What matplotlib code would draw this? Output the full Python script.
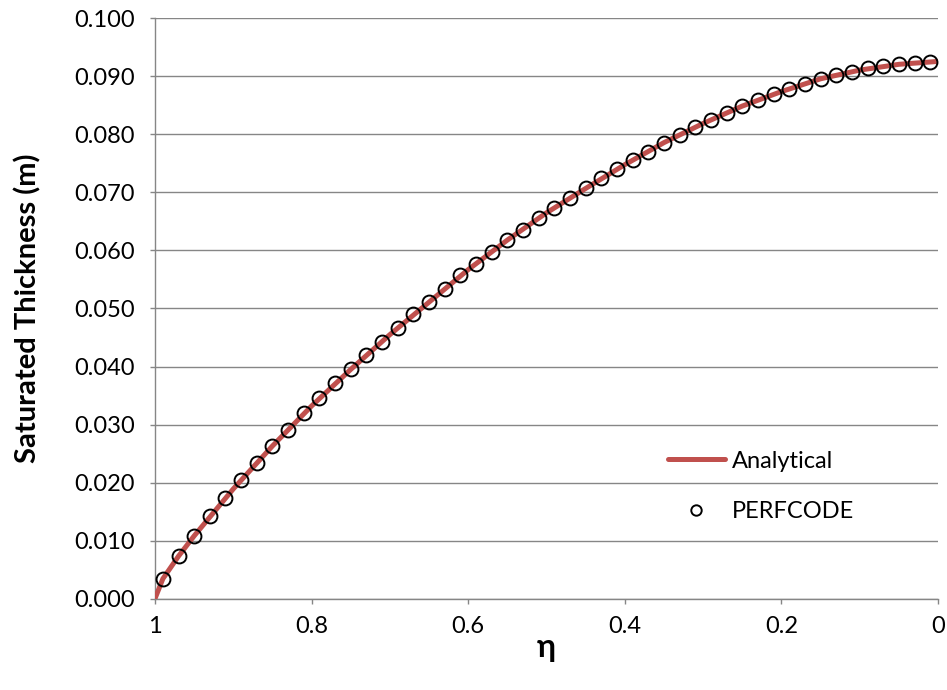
import matplotlib
matplotlib.use("Agg")
import matplotlib.pyplot as plt
from matplotlib.ticker import MultipleLocator, FormatStrFormatter, FuncFormatter

plt.rcParams['font.family'] = ['Lato', 'DejaVu Sans']

# Analytical curve
analytical_eta = [1.00, 0.99, 0.97, 0.95, 0.90, 0.85, 0.80, 0.75, 0.70, 0.65, 0.60,
                  0.55, 0.50, 0.45, 0.40, 0.35, 0.30, 0.25, 0.20, 0.15, 0.10, 0.05, 0.00]
analytical_thk = [0.0000, 0.0034, 0.0073, 0.0108, 0.0189, 0.0263, 0.0332, 0.0395, 0.0455,
                  0.0511, 0.0567, 0.0618, 0.0665, 0.0707, 0.0748, 0.0786, 0.0819, 0.0849,
                  0.0874, 0.0896, 0.0911, 0.0921, 0.0926]

# PERFCODE points
perf_eta = [0.99, 0.97, 0.95, 0.93, 0.91, 0.89, 0.87, 0.85, 0.83, 0.81,
            0.79, 0.77, 0.75, 0.73, 0.71, 0.69, 0.67, 0.65, 0.63, 0.61,
            0.59, 0.57, 0.55, 0.53, 0.51, 0.49, 0.47, 0.45, 0.43, 0.41,
            0.39, 0.37, 0.35, 0.33, 0.31, 0.29, 0.27, 0.25, 0.23, 0.21,
            0.19, 0.17, 0.15, 0.13, 0.11, 0.09, 0.07, 0.05, 0.03, 0.01]
perf_thk = [0.0034, 0.0073, 0.0108, 0.0142, 0.0173, 0.0204, 0.0234, 0.0263, 0.0290, 0.0319,
            0.0345, 0.0371, 0.0395, 0.0419, 0.0442, 0.0467, 0.0491, 0.0511, 0.0534, 0.0557,
            0.0577, 0.0597, 0.0618, 0.0635, 0.0656, 0.0674, 0.0691, 0.0707, 0.0725, 0.0741,
            0.0756, 0.0770, 0.0786, 0.0799, 0.0813, 0.0825, 0.0837, 0.0849, 0.0860, 0.0870,
            0.0878, 0.0887, 0.0896, 0.0903, 0.0907, 0.0915, 0.0918, 0.0921, 0.0923, 0.0925]

x_ticks = [1.0, 0.8, 0.6, 0.4, 0.2, 0.0]

grey = '#868686'
fig = plt.figure(figsize=(9.47, 6.90), dpi=100)
ax = fig.add_axes([0.1637, 0.1326, 0.8268, 0.8406])

ax.plot(analytical_eta, analytical_thk, color='#C0504D', lw=3.6, label='Analytical',
        solid_capstyle='round', zorder=3)
ax.plot(perf_eta, perf_thk, linestyle='none', marker='o', markersize=10,
        markerfacecolor='none', markeredgecolor='black', markeredgewidth=1.4,
        label='PERFCODE', zorder=4)

ax.set_xlim(1.0, 0.0)
ax.set_ylim(0.0, 0.100)
ax.set_xticks(x_ticks)
ax.xaxis.set_major_formatter(FuncFormatter(lambda v, p: '%g' % round(v, 1)))
ax.yaxis.set_major_locator(MultipleLocator(0.01))
ax.yaxis.set_major_formatter(FormatStrFormatter('%.3f'))

ax.grid(axis='y', color=grey, lw=1.0)
ax.set_axisbelow(True)
for s in ['top', 'right']:
    ax.spines[s].set_visible(False)
for s in ['left', 'bottom']:
    ax.spines[s].set_color(grey)
    ax.spines[s].set_linewidth(1.0)
ax.tick_params(axis='both', colors=grey, length=3.6, width=1.0, labelsize=17,
               labelcolor='black', direction='out')
ax.tick_params(axis='x', pad=9)
ax.tick_params(axis='y', pad=11)

ax.set_ylabel('Saturated Thickness (m)', fontsize=21, fontweight='bold')
ax.yaxis.set_label_coords(-0.163, 0.5)
ax.yaxis.label.set_va('center')
ax.set_xlabel('η', fontsize=23, fontweight='bold')
ax.xaxis.set_label_coords(0.5, -0.10)
ax.xaxis.label.set_va('baseline')

leg = ax.legend(loc='upper left', bbox_to_anchor=(0.655, 0.255), frameon=False,
                fontsize=17, handlelength=2.4, handletextpad=0.3, labelspacing=1.25,
                borderpad=0, borderaxespad=0, markerscale=0.75)

fig.savefig('out.png', dpi=100)
